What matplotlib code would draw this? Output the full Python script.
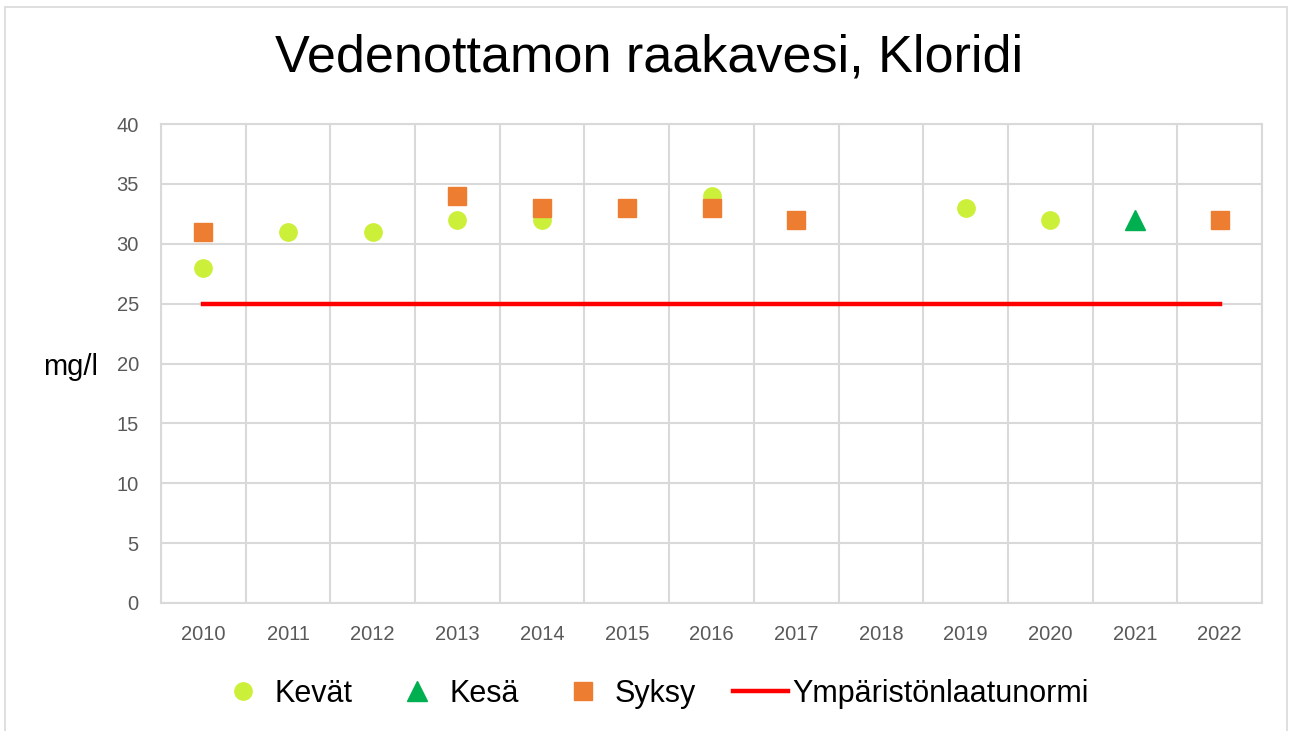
import matplotlib
matplotlib.use("Agg")
import matplotlib.pyplot as plt
import numpy as np
from matplotlib.patches import Rectangle

plt.rcParams['font.family'] = ['Liberation Sans', 'DejaVu Sans']

# ---------- DATA ----------
years = ['2010', '2011', '2012', '2013', '2014', '2015', '2016',
         '2017', '2018', '2019', '2020', '2021', '2022']
kevat = [28, 31, 31, 32, 32, None, 34, None, None, 33, 32, None, None]
kesa = [None, None, None, None, None, None, None, None, None, None, None, 32, None]
syksy = [31, None, None, 34, 33, 33, 33, 32, None, None, None, None, 32]
norm = [25, 25, 25, 25, 25, 25, 25, 25, 25, 25, 25, 25, 25]

def to_arr(vals):
    return np.array([np.nan if v is None else v for v in vals], dtype=float)

x = np.arange(len(years))

fig = plt.figure(figsize=(12.92, 7.31), dpi=100)
ax = fig.add_axes([161/1292, 1 - 603/731, (1262-161)/1292, (603-124)/731])

# grey frame round the chart
fig.patches.append(Rectangle((5/1292, -0.02), 1282/1292, 1.02 - 7/731,
                             transform=fig.transFigure, fill=False,
                             edgecolor='#d9d9d9', linewidth=1.2))

grid_c = '#d9d9d9'
ax.plot(x, to_arr(norm), color='#ff0000', linewidth=3.2, label='Ympäristönlaatunormi', zorder=2)
ax.plot(x, to_arr(kevat), linestyle='none', marker='o', markersize=12.5,
        color='#ccf03a', label='Kevät', zorder=3)
ax.plot(x, to_arr(kesa), linestyle='none', marker='^', markersize=14,
        color='#00b050', label='Kesä', zorder=3)
ax.plot(x, to_arr(syksy), linestyle='none', marker='s', markersize=13.5,
        color='#ed7d31', label='Syksy', zorder=4)

ax.set_xlim(-0.5, len(years) - 0.5)
ax.set_ylim(0, 40)
ax.set_yticks(range(0, 41, 5))
ax.set_xticks(x)
ax.set_xticklabels(years)
ax.set_xticks(np.arange(-0.5, len(years), 1), minor=True)
ax.grid(True, which='minor', axis='x', color=grid_c, linewidth=1.5)
ax.grid(True, which='major', axis='y', color=grid_c, linewidth=1.5)
ax.set_axisbelow(True)
for s in ax.spines.values():
    s.set_color(grid_c)
    s.set_linewidth(1.5)
ax.tick_params(which='both', length=0, colors='#595959', labelsize=14.5)
ax.tick_params(axis='x', pad=15.5)
ax.tick_params(axis='y', pad=16)

fig.text(71/1292, 1 - 367/731, 'mg/l', fontsize=21, ha='center', va='center')
fig.text(649/1292, 1 - 58/731, 'Vedenottamon raakavesi, Kloridi', fontsize=37.5,
         ha='center', va='center')

h, l = ax.get_legend_handles_labels()
order = [1, 2, 3, 0]
fig.legend([h[i] for i in order], [l[i] for i in order], loc='center',
           bbox_to_anchor=(652/1292, 1 - 694/731), ncol=4, frameon=False,
           fontsize=22, handlelength=1.8, handletextpad=0.15, columnspacing=1.2)

fig.savefig('out.png', dpi=100)
